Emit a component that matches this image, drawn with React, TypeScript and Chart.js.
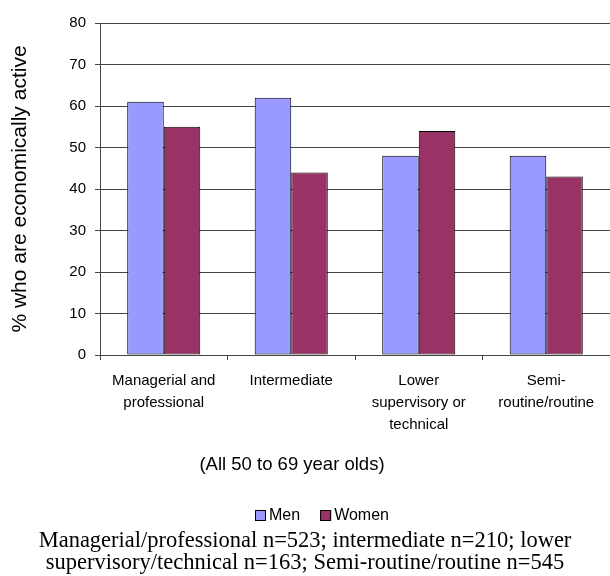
import React, { useEffect, useRef } from "react";
import { Chart, registerables } from "chart.js";

Chart.register(...registerables);

const categories: string[][] = [
  ["Managerial and", "professional"],
  ["Intermediate"],
  ["Lower", "supervisory or", "technical"],
  ["Semi-", "routine/routine"],
];
const seriesNames = ["Men", "Women"];
const menValues = [61, 62, 48, 48];
const womenValues = [55, 44, 54, 43];
const yMin = 0;
const yMax = 80;
const yStep = 10;
const yAxisTitle = "% who are economically active";
const xCaption = "(All 50 to 69 year olds)";
const footnote = [
  "Managerial/professional n=523; intermediate n=210; lower",
  "supervisory/technical n=163; Semi-routine/routine n=545",
];

const SANS = "'Liberation Sans', Arial, sans-serif";
const SERIF = "'Liberation Serif', 'Times New Roman', serif";

// Draws the x caption and the legend (built from the datasets) below the axis.
const captionLegendPlugin = {
  id: "captionLegend",
  afterDraw(chart: any) {
    const ctx = chart.ctx as CanvasRenderingContext2D;
    const area = chart.chartArea;
    ctx.save();
    ctx.fillStyle = "#000000";
    ctx.font = `18.5px ${SANS}`;
    ctx.textAlign = "center";
    ctx.textBaseline = "middle";
    ctx.fillText(xCaption, 292, area.bottom + 110);

    ctx.font = `16px ${SANS}`;
    ctx.textAlign = "left";
    let x = 255;
    const y = area.bottom + 160;
    chart.data.datasets.forEach((ds: any) => {
      ctx.fillStyle = ds.backgroundColor;
      ctx.fillRect(x, y - 5, 11, 11);
      ctx.strokeStyle = "#000000";
      ctx.lineWidth = 1;
      ctx.strokeRect(x + 0.5, y - 4.5, 10, 10);
      ctx.fillStyle = "#000000";
      ctx.fillText(ds.label, x + 14, y + 1);
      x += 14 + ctx.measureText(ds.label).width + 20;
    });
    ctx.restore();
  },
};

export default function App() {
  const ref = useRef<HTMLCanvasElement | null>(null);

  useEffect(() => {
    if (!ref.current) return;
    const chart = new Chart(ref.current, {
      type: "bar",
      data: {
        labels: categories,
        datasets: [
          {
            label: seriesNames[0],
            data: menValues,
            backgroundColor: "#9999FF",
            borderColor: "#000000",
            borderWidth: 1,
            borderSkipped: false,
            categoryPercentage: 0.573,
            barPercentage: 1,
          },
          {
            label: seriesNames[1],
            data: womenValues,
            backgroundColor: "#993366",
            borderColor: "#000000",
            borderWidth: 1,
            borderSkipped: false,
            categoryPercentage: 0.573,
            barPercentage: 1,
          },
        ],
      },
      plugins: [captionLegendPlugin],
      options: {
        responsive: false,
        animation: false,
        layout: { padding: { top: 23, left: 0, right: 0, bottom: 0 } },
        scales: {
          x: {
            grid: {
              drawOnChartArea: false,
              drawTicks: true,
              tickLength: 5,
              color: "#444444",
              offset: true,
            },
            border: { color: "#444444" },
            ticks: {
              color: "#000000",
              font: { family: SANS, size: 15, lineHeight: 1.47 },
              padding: 10,
              maxRotation: 0,
              autoSkip: false,
            },
            afterFit: (s: any) => {
              s.height = 175;
            },
          },
          y: {
            min: yMin,
            max: yMax,
            ticks: {
              stepSize: yStep,
              color: "#000000",
              font: { family: SANS, size: 15 },
              padding: 9,
            },
            grid: { color: "#444444", tickLength: 5 },
            border: { color: "#444444" },
            title: {
              display: true,
              text: yAxisTitle,
              color: "#000000",
              font: { family: SANS, size: 21, lineHeight: 1.2 },
              padding: { top: 8, bottom: 0 },
            },
            afterFit: (s: any) => {
              s.width = 100;
            },
          },
        },
        plugins: {
          legend: { display: false },
          title: {
            display: true,
            position: "bottom",
            text: footnote,
            color: "#000000",
            font: { family: SERIF, size: 22.5, lineHeight: 22 / 22.5, weight: "normal" },
            padding: { top: 0, bottom: 2 },
          } as any,
          tooltip: { enabled: false },
        },
      },
    });
    return () => chart.destroy();
  }, []);

  return (
    <div style={{ position: "absolute", left: 0, top: 0, width: 610, height: 576 }}>
      <canvas ref={ref} width={610} height={576} style={{ display: "block" }} />
    </div>
  );
}
